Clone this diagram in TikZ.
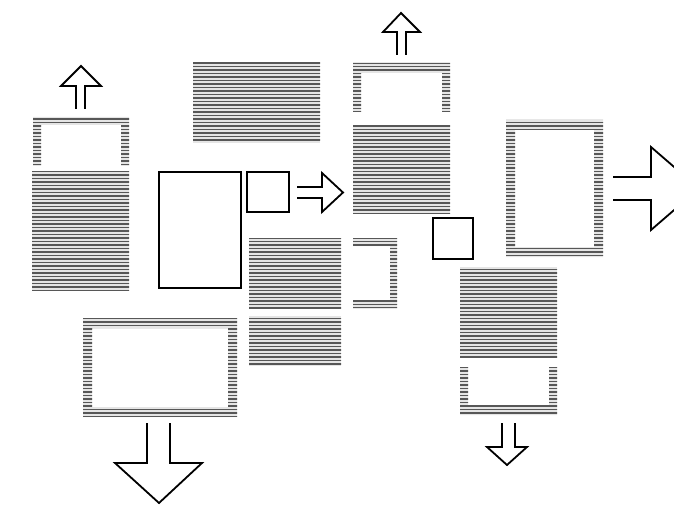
\documentclass[tikz,border=0pt]{standalone}
\tikzset{
  hatch/.style={fill=black!10,path picture={
      \foreach \yy in {0,3.5,...,505}
        \draw[line width=1.8pt,black!66] (0,\yy) -- (674,\yy);}},
  solidbox/.style={draw=black,line width=2pt},
  blockarrow/.style={draw=black,line width=1.8pt,line join=miter},
}
\begin{document}
\begin{tikzpicture}[x=1pt,y=-1pt]
\useasboundingbox (0,0) rectangle (674,505);
\clip (0,0) rectangle (674,505);

% solid hatched blocks
\path[hatch] (32,172) rectangle (129,290);   % left block
\path[hatch] (193,63) rectangle (320,143);   % top middle block
\path[hatch] (249,238) rectangle (341,308);  % middle block
\path[hatch] (249,316) rectangle (341,366);  % lower middle block
\path[hatch] (353,125) rectangle (450,213);  % upper right block
\path[hatch] (460,267) rectangle (557,358);  % lower right block

% hatched frames
\path[hatch,even odd rule] (506,120) rectangle (603,257) (515,130) rectangle (594,247);
\path[hatch,even odd rule] (83,318) rectangle (237,417) (92,328) rectangle (228,407);

% hatched brackets
\path[hatch] (33,166) -- (33,117) -- (129,117) -- (129,166) -- (121,166) -- (121,125) -- (41,125) -- (41,166) -- cycle;
\path[hatch] (353,112) -- (353,63) -- (450,63) -- (450,112) -- (442,112) -- (442,73) -- (361,73) -- (361,112) -- cycle;
\path[hatch] (353,238) -- (397,238) -- (397,308) -- (353,308) -- (353,300) -- (390,300) -- (390,246) -- (353,246) -- cycle;
\path[hatch] (460,367) -- (468,367) -- (468,405) -- (549,405) -- (549,367) -- (557,367) -- (557,415) -- (460,415) -- cycle;

% outlined boxes
\draw[solidbox] (159,172) rectangle (241,288);
\draw[solidbox] (247,172) rectangle (289,212);
\draw[solidbox] (433,218) rectangle (473,259);

% block arrows
\draw[blockarrow] (76,109) -- (76,86) -- (61,86) -- (81,66) -- (101,86) -- (85,86) -- (85,109);
\draw[blockarrow] (297,187) -- (322,187) -- (322,173) -- (343,192.5) -- (322,212) -- (322,198) -- (297,198);
\draw[blockarrow] (397,55) -- (397,32) -- (383,32) -- (401,13) -- (420,32) -- (406,32) -- (406,55);
\draw[blockarrow] (613,177) -- (651,177) -- (651,147) -- (699,188.5) -- (651,230) -- (651,200) -- (613,200);
\draw[blockarrow] (147,423) -- (147,463) -- (115,463) -- (159,503) -- (202,463) -- (170,463) -- (170,423);
\draw[blockarrow] (502,423) -- (502,447) -- (487,447) -- (507,465) -- (527,447) -- (515,447) -- (515,423);
\end{tikzpicture}
\end{document}
